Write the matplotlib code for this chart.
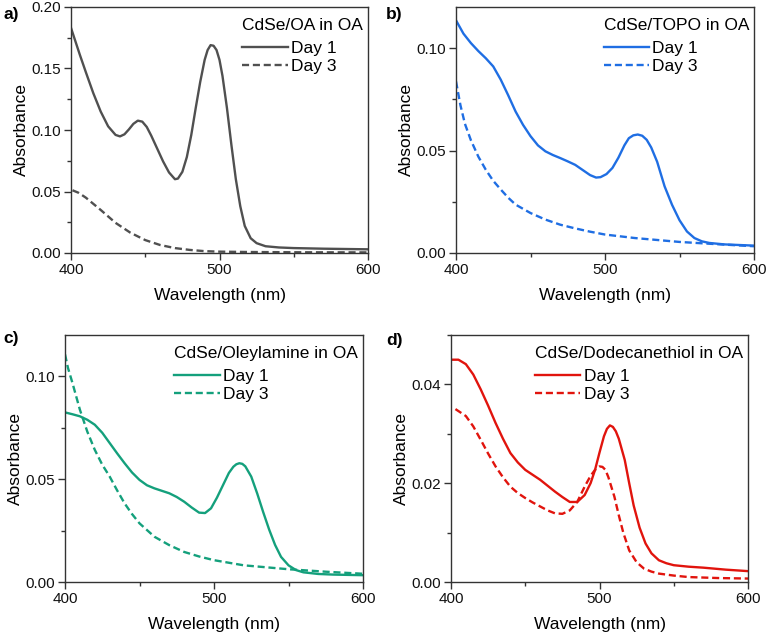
import matplotlib
matplotlib.use("Agg")
import matplotlib.pyplot as plt
from matplotlib.ticker import MultipleLocator

plt.rcParams['font.family'] = ['Liberation Sans', 'DejaVu Sans']

# Panel a: CdSe/OA in OA
a_d1_x = [400, 403, 406, 410, 415, 420, 425, 430, 433, 436, 439, 442, 445, 448, 451, 454, 458, 462, 466, 470, 472, 475, 478, 481, 484, 487, 490, 492, 494, 496, 498, 500, 502, 505, 508, 511, 514, 517, 521, 525, 531, 540, 550, 570, 600]
a_d1_y = [0.183, 0.172, 0.161, 0.147, 0.130, 0.115, 0.103, 0.096, 0.0948, 0.0965, 0.1005, 0.105, 0.1076, 0.1068, 0.1025, 0.0955, 0.085, 0.0745, 0.0655, 0.0600, 0.0605, 0.0660, 0.0780, 0.0960, 0.1180, 0.1390, 0.1570, 0.1650, 0.1690, 0.1685, 0.1650, 0.1570, 0.1440, 0.1180, 0.0880, 0.0600, 0.0380, 0.0220, 0.0120, 0.0080, 0.0055, 0.0045, 0.0040, 0.0035, 0.0030]
a_d3_x = [401, 405, 410, 420, 430, 440, 450, 460, 470, 480, 490, 500, 520, 550, 600]
a_d3_y = [0.051, 0.049, 0.045, 0.035, 0.0245, 0.0165, 0.0105, 0.0065, 0.004, 0.0025, 0.0015, 0.0011, 0.0008, 0.0006, 0.0005]

# Panel b: CdSe/TOPO in OA
b_d1_x = [400, 405, 410, 415, 420, 425, 430, 435, 440, 445, 450, 455, 460, 465, 470, 475, 480, 485, 490, 494, 497, 501, 505, 509, 513, 516, 519, 522, 525, 528, 531, 535, 540, 545, 550, 555, 560, 565, 570, 580, 600]
b_d1_y = [0.1135, 0.107, 0.1024, 0.0985, 0.095, 0.091, 0.0846, 0.077, 0.069, 0.0625, 0.057, 0.0525, 0.0496, 0.0478, 0.0463, 0.0447, 0.043, 0.0405, 0.038, 0.0368, 0.0370, 0.0385, 0.0415, 0.0465, 0.0525, 0.0560, 0.0574, 0.0578, 0.0572, 0.0552, 0.0515, 0.0445, 0.0325, 0.0235, 0.0160, 0.0105, 0.0073, 0.0057, 0.0049, 0.0042, 0.0036]
b_d3_x = [400, 403, 406, 410, 415, 420, 425, 430, 435, 440, 450, 460, 470, 480, 490, 500, 520, 550, 575, 600]
b_d3_y = [0.0837, 0.0720, 0.0630, 0.0550, 0.0470, 0.0406, 0.0352, 0.0310, 0.0270, 0.0236, 0.0195, 0.0163, 0.0138, 0.0120, 0.0104, 0.0090, 0.0073, 0.0054, 0.0043, 0.0033]

# Panel c: CdSe/Oleylamine in OA
c_d1_x = [400, 405, 410, 415, 420, 425, 430, 435, 440, 445, 450, 455, 460, 465, 470, 475, 480, 485, 490, 494, 498, 502, 506, 510, 513, 515, 517, 519, 521, 525, 529, 533, 537, 541, 545, 550, 555, 560, 570, 580, 600]
c_d1_y = [0.0824, 0.0815, 0.0805, 0.0788, 0.0764, 0.0725, 0.0675, 0.0625, 0.0577, 0.0532, 0.0496, 0.0470, 0.0455, 0.0443, 0.0431, 0.0413, 0.0390, 0.0362, 0.0337, 0.0335, 0.0358, 0.0410, 0.0470, 0.0530, 0.0560, 0.0572, 0.0577, 0.0574, 0.0562, 0.0512, 0.0430, 0.0340, 0.0255, 0.0180, 0.0122, 0.0081, 0.0058, 0.0047, 0.0039, 0.0036, 0.0033]
c_d3_x = [400, 402, 405, 410, 415, 420, 425, 430, 435, 440, 445, 450, 460, 470, 480, 490, 500, 520, 550, 575, 600]
c_d3_y = [0.1106, 0.1040, 0.0967, 0.0837, 0.0730, 0.0642, 0.0570, 0.0512, 0.0445, 0.0382, 0.0330, 0.0285, 0.0220, 0.0179, 0.0146, 0.0124, 0.0106, 0.0081, 0.0062, 0.0050, 0.0040]

# Panel d: CdSe/Dodecanethiol in OA
d_d1_x = [400, 405, 410, 415, 420, 425, 430, 435, 440, 445, 450, 455, 460, 465, 470, 475, 480, 485, 490, 494, 497, 500, 503, 505, 507, 509, 511, 513, 517, 520, 523, 527, 531, 535, 540, 545, 550, 560, 570, 585, 600]
d_d1_y = [0.0450, 0.0450, 0.0441, 0.0420, 0.0390, 0.0357, 0.0322, 0.0290, 0.0261, 0.0242, 0.0227, 0.0217, 0.0207, 0.0195, 0.0183, 0.0172, 0.0162, 0.0162, 0.0176, 0.0200, 0.0227, 0.0262, 0.0295, 0.0310, 0.0317, 0.0314, 0.0305, 0.0290, 0.0247, 0.0200, 0.0155, 0.0110, 0.0078, 0.0058, 0.0044, 0.0038, 0.0034, 0.0031, 0.0029, 0.0025, 0.0022]
d_d3_x = [403, 410, 415, 420, 425, 430, 435, 440, 445, 450, 455, 460, 465, 470, 475, 480, 485, 490, 494, 497, 500, 502, 504, 506, 510, 513, 516, 520, 525, 530, 535, 540, 550, 560, 580, 600]
d_d3_y = [0.0350, 0.0336, 0.0315, 0.0288, 0.0260, 0.0234, 0.0212, 0.0193, 0.0180, 0.0170, 0.0161, 0.0153, 0.0145, 0.0139, 0.0138, 0.0145, 0.0162, 0.0193, 0.0215, 0.0227, 0.0234, 0.0233, 0.0227, 0.0212, 0.0173, 0.0135, 0.0100, 0.0064, 0.0040, 0.0027, 0.0021, 0.0017, 0.0013, 0.0010, 0.0008, 0.0007]

titles = ["CdSe/OA in OA", "CdSe/TOPO in OA", "CdSe/Oleylamine in OA", "CdSe/Dodecanethiol in OA"]
panel_labels = ["a)", "b)", "c)", "d)"]
colors = ["#505050", "#1f6ee3", "#14a07c", "#e1140d"]
ylims = [0.20, 0.12, 0.12, 0.05]
ymajor = [0.05, 0.05, 0.05, 0.02]
yminor = [0.025, 0.025, 0.025, 0.01]
series = [(a_d1_x, a_d1_y, a_d3_x, a_d3_y), (b_d1_x, b_d1_y, b_d3_x, b_d3_y),
          (c_d1_x, c_d1_y, c_d3_x, c_d3_y), (d_d1_x, d_d1_y, d_d3_x, d_d3_y)]

W, H = 767, 635
fig = plt.figure(figsize=(W / 100, H / 100), dpi=100)
rects = [(71, 7, 297, 246), (456, 7, 298, 246), (65, 335, 298, 247), (451, 335, 297, 247)]
label_pos = [(3, 14), (386, 14), (3, 339), (386, 340)]

for i in range(4):
    l, t, w, h = rects[i]
    ax = fig.add_axes([l / W, 1 - (t + h) / H, w / W, h / H])
    x1, y1, x3, y3 = series[i]
    ax.plot(x1, y1, color=colors[i], lw=1.7, label="Day 1")
    ax.plot(x3, y3, color=colors[i], lw=1.7, ls=(0, (3, 1.6)), label="Day 3")
    ax.set_xlim(400, 600)
    ax.set_ylim(0, ylims[i])
    ax.xaxis.set_major_locator(MultipleLocator(100))
    ax.xaxis.set_minor_locator(MultipleLocator(50))
    ax.yaxis.set_major_locator(MultipleLocator(ymajor[i]))
    ax.yaxis.set_minor_locator(MultipleLocator(yminor[i]))
    ax.yaxis.set_major_formatter(plt.FuncFormatter(lambda v, p: f"{v:.2f}"))
    ax.tick_params(which='major', direction='out', length=5, width=1, labelsize=11,
                   colors='#333333', labelcolor='#111111', pad=2)
    ax.tick_params(which='minor', direction='out', length=3, width=1, colors='#333333')
    for s in ax.spines.values():
        s.set_color('#333333')
        s.set_linewidth(1.0)
    ax.set_xlabel("Wavelength (nm)", fontsize=12.5, labelpad=8)
    ax.set_ylabel("Absorbance", fontsize=12.5, labelpad=2)
    leg = ax.legend(title=titles[i], loc='upper right', bbox_to_anchor=(1.022, 1.0),
                    frameon=False, fontsize=12.5,
                    title_fontsize=12.5, handlelength=2.6, handletextpad=0.2,
                    labelspacing=0.15, borderaxespad=0.35, alignment='left',
                    borderpad=0.3)
    leg._legend_box.sep = 5.5
    px, py = label_pos[i]
    fig.text(px / W, 1 - py / H, panel_labels[i], fontsize=12.5, fontweight='bold',
             ha='left', va='center')

fig.savefig("out.png", dpi=100)
